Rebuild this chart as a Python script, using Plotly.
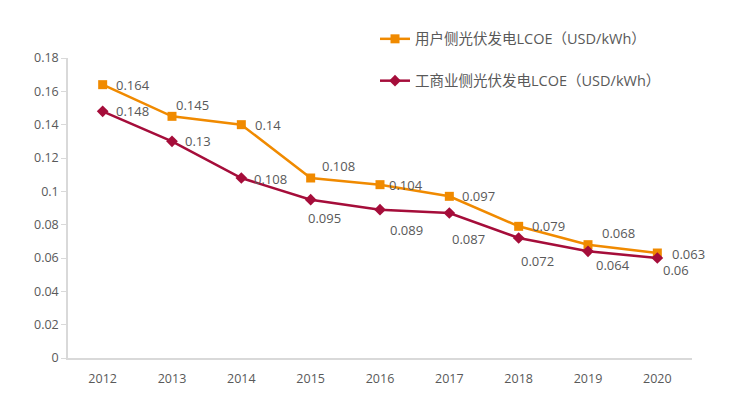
import plotly.graph_objects as go

years = [2012, 2013, 2014, 2015, 2016, 2017, 2018, 2019, 2020]
year_labels = ["2012", "2013", "2014", "2015", "2016", "2017", "2018", "2019", "2020"]
residential = [0.164, 0.145, 0.14, 0.108, 0.104, 0.097, 0.079, 0.068, 0.063]
commercial = [0.148, 0.13, 0.108, 0.095, 0.089, 0.087, 0.072, 0.064, 0.06]
res_name = "用户侧光伏发电LCOE（USD/kWh）"
com_name = "工商业侧光伏发电LCOE（USD/kWh）"
y_ticks = [0, 0.02, 0.04, 0.06, 0.08, 0.1, 0.12, 0.14, 0.16, 0.18]
y_tick_text = ["0", "0.02", "0.04", "0.06", "0.08", "0.1", "0.12", "0.14", "0.16", "0.18"]

# label offsets (pixels) per point
res_off = [(30, 0), (20, -11), (27, 0), (28, -12), (26, 0), (29, 0), (30, 0), (30, -12), (31, 1)]
com_off = [(30, 0), (26, 0), (29, 1), (14, 18), (26, 20), (19, 26), (19, 23), (25, 14), (19, 12)]

ORANGE = "#F08A00"
RED = "#A50D3A"
GRAY = "#595959"
FONT = "Open Sans, Liberation Sans, Noto Sans CJK SC, sans-serif"

fig = go.Figure()
fig.add_trace(go.Scatter(
    x=years, y=residential, name=res_name, mode="lines+markers",
    line=dict(color=ORANGE, width=2.5),
    marker=dict(symbol="square", size=9, color=ORANGE),
    legendgroup="a",
))
fig.add_trace(go.Scatter(
    x=years, y=commercial, name=com_name, mode="lines+markers",
    line=dict(color=RED, width=2.5),
    marker=dict(symbol="diamond", size=9, color=RED),
    legendgroup="b",
))

for xs, ys, offs in [(years, residential, res_off), (years, commercial, com_off)]:
    for x, y, (dx, dy) in zip(xs, ys, offs):
        fig.add_annotation(
            x=x, y=y, text=("%g" % y), showarrow=False,
            xshift=dx, yshift=-dy,
            font=dict(size=13, color=GRAY, family=FONT),
        )

fig.update_layout(
    width=730, height=391,
    margin=dict(l=60, r=46, t=50, b=39),
    paper_bgcolor="white", plot_bgcolor="white",
    font=dict(family=FONT, color=GRAY, size=12),
    showlegend=True,
    legend=dict(
        x=0.492, y=1.117, xanchor="left", yanchor="top",
        font=dict(size=14.5, color=GRAY, family=FONT),
        tracegroupgap=20, traceorder="grouped",
        bgcolor="rgba(0,0,0,0)",
    ),
    xaxis=dict(
        range=[2011.5, 2020.5], tickvals=years, ticktext=year_labels,
        showgrid=False, showline=True, zeroline=False,
        linecolor="#D9D9D9", linewidth=1.5,
        ticks="outside", ticklen=8, tickcolor="rgba(0,0,0,0)",
        tickfont=dict(size=12.5, color=GRAY),
    ),
    yaxis=dict(
        range=[0, 0.18], tickvals=y_ticks, ticktext=y_tick_text,
        showgrid=False, showline=True, linecolor="#D9D9D9", linewidth=1.5,
        ticks="outside", ticklen=5, tickcolor="#D9D9D9",
        tickfont=dict(size=12.5, color=GRAY), zeroline=False,
    ),
)

fig.write_html("out.html")
